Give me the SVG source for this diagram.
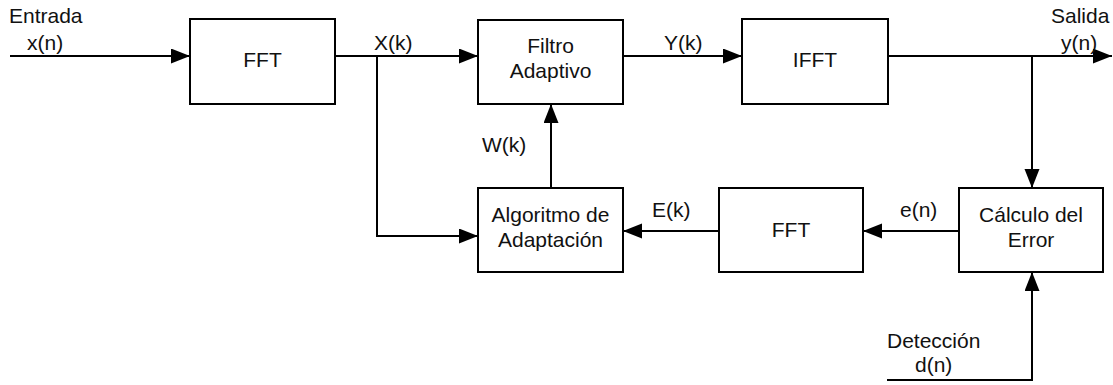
<svg xmlns="http://www.w3.org/2000/svg" width="1113" height="385" viewBox="0 0 1113 385">
<defs>
<style>
.box{fill:#fff;stroke:#000;stroke-width:2}
.ln{fill:none;stroke:#000;stroke-width:2}
text{font-family:"Liberation Sans",Arial,sans-serif;font-size:21px;fill:#111}
.c{text-anchor:middle}
</style>
<marker id="ah" markerUnits="userSpaceOnUse" markerWidth="22" markerHeight="16" refX="19" refY="7.5" orient="auto">
<path d="M0,0 L19,7.5 L0,15 Z" fill="#000"/>
</marker>
</defs>
<g id="connectors">
<line class="ln" x1="10" y1="56" x2="190" y2="56" marker-end="url(#ah)"/>
<line class="ln" x1="335" y1="56" x2="478" y2="56" marker-end="url(#ah)"/>
<polyline class="ln" points="377,56 377,236 478,236" marker-end="url(#ah)"/>
<line class="ln" x1="623" y1="56" x2="742" y2="56" marker-end="url(#ah)"/>
<line class="ln" x1="888" y1="56" x2="1112" y2="56" marker-end="url(#ah)"/>
<line class="ln" x1="1032" y1="56" x2="1032" y2="188" marker-end="url(#ah)"/>
<line class="ln" x1="551" y1="188" x2="551" y2="104" marker-end="url(#ah)"/>
<line class="ln" x1="959" y1="231" x2="863" y2="231" marker-end="url(#ah)"/>
<line class="ln" x1="719" y1="231" x2="623" y2="231" marker-end="url(#ah)"/>
<polyline class="ln" points="887,380 1032,380 1032,272" marker-end="url(#ah)"/>
<text x="9" y="23">Entrada</text>
<text x="27" y="50">x(n)</text>
<text x="374" y="50">X(k)</text>
<text x="664" y="50">Y(k)</text>
<text x="1051" y="23">Salida</text>
<text x="1061" y="50">y(n)</text>
<text x="482" y="152">W(k)</text>
<text x="652" y="217">E(k)</text>
<text x="900" y="217">e(n)</text>
<text x="887" y="348">Detección</text>
<text x="915" y="372">d(n)</text>
</g>
<g id="fft1">
<rect class="box" x="190" y="19" width="145" height="85"/>
<text class="c" x="262.5" y="67">FFT</text>
</g>
<g id="filtro">
<rect class="box" x="478" y="20" width="145" height="84"/>
<text class="c" x="550.5" y="53">Filtro</text>
<text class="c" x="550.5" y="78">Adaptivo</text>
</g>
<g id="ifft">
<rect class="box" x="742" y="19" width="146" height="85"/>
<text class="c" x="815" y="67">IFFT</text>
</g>
<g id="algoritmo">
<rect class="box" x="478" y="188" width="145" height="84"/>
<text class="c" x="550.5" y="222">Algoritmo de</text>
<text class="c" x="550.5" y="247">Adaptación</text>
</g>
<g id="fft2">
<rect class="box" x="719" y="188" width="144" height="84"/>
<text class="c" x="791" y="237">FFT</text>
</g>
<g id="calculo">
<rect class="box" x="959" y="188" width="144" height="84"/>
<text class="c" x="1031" y="222">Cálculo del</text>
<text class="c" x="1031" y="247">Error</text>
</g>
</svg>
